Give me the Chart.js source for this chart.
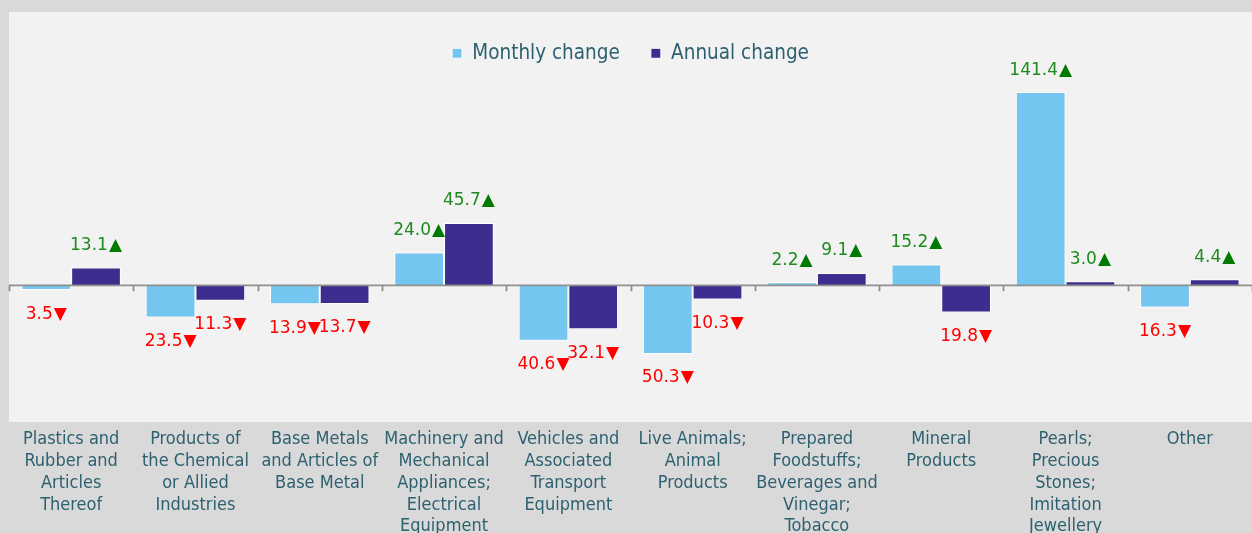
<!DOCTYPE html>
<html lang="en">
<head>
    <meta charset="UTF-8">
    <script src="https://cdn.jsdelivr.net/npm/chart.js"></script>
    <title>Monthly and annual change by product group</title>
    <style>
        body { margin: 0; background: #d9d9d9; overflow: hidden; }
        #chart { display: block; }
    </style>
</head>
<body>
    <canvas id="chart" width="1252" height="533"></canvas>
    <script>
        const categories = [
            ['Plastics and', 'Rubber and', 'Articles', 'Thereof'],
            ['Products of', 'the Chemical', 'or Allied', 'Industries'],
            ['Base Metals', 'and Articles of', 'Base Metal'],
            ['Machinery and', 'Mechanical', 'Appliances;', 'Electrical', 'Equipment'],
            ['Vehicles and', 'Associated', 'Transport', 'Equipment'],
            ['Live Animals;', 'Animal', 'Products'],
            ['Prepared', 'Foodstuffs;', 'Beverages and', 'Vinegar;', 'Tobacco'],
            ['Mineral', 'Products'],
            ['Pearls;', 'Precious', 'Stones;', 'Imitation', 'Jewellery'],
            ['Other']
        ];
        const monthlyChange = [-3.5, -23.5, -13.9, 24.0, -40.6, -50.3, 2.2, 15.2, 141.4, -16.3];
        const annualChange = [13.1, -11.3, -13.7, 45.7, -32.1, -10.3, 9.1, -19.8, 3.0, 4.4];

        const textColor = '#2d6070';
        const condensed = '"DejaVu Sans Condensed", "DejaVu Sans", sans-serif';

        // plot background, starting at the top of the legend
        const plotBackground = {
            id: 'plotBackground',
            beforeDraw(chart) {
                const { ctx, chartArea } = chart;
                const top = chart.legend ? chart.legend.top : chartArea.top;
                ctx.save();
                ctx.fillStyle = '#f2f2f2';
                ctx.fillRect(chartArea.left, top, chartArea.right - chartArea.left, chartArea.bottom - top);
                ctx.restore();
            }
        };

        // zero line with small ticks between categories
        const zeroAxis = {
            id: 'zeroAxis',
            afterDatasetsDraw(chart) {
                const { ctx, chartArea, scales } = chart;
                const y0 = scales.y.getPixelForValue(0);
                const step = (scales.x.right - scales.x.left) / categories.length;
                ctx.save();
                ctx.strokeStyle = '#8f8f8f';
                ctx.lineWidth = 1.8;
                ctx.beginPath();
                ctx.moveTo(chartArea.left, y0);
                ctx.lineTo(chartArea.right, y0);
                for (let i = 0; i <= categories.length; i++) {
                    const x = Math.round(scales.x.left + i * step) + 0.5;
                    ctx.moveTo(x, y0);
                    ctx.lineTo(x, y0 + 6);
                }
                ctx.stroke();
                ctx.restore();
            }
        };

        // value labels with up / down arrows
        const valueLabels = {
            id: 'valueLabels',
            afterDatasetsDraw(chart) {
                const ctx = chart.ctx;
                ctx.save();
                ctx.font = '17px "DejaVu Sans", sans-serif';
                ctx.textBaseline = 'middle';
                ctx.textAlign = 'left';
                chart.data.datasets.forEach((ds, di) => {
                    chart.getDatasetMeta(di).data.forEach((bar, i) => {
                        const v = ds.data[i];
                        const num = Math.abs(v).toFixed(1);
                        const arrow = v >= 0 ? '\u25B2' : '\u25BC';
                        const wNum = ctx.measureText(num).width;
                        const wArrow = ctx.measureText(arrow).width;
                        const gap = 1;
                        const total = wNum + gap + wArrow;
                        const x = bar.x - total / 2;
                        const y = v >= 0 ? bar.y - 22 : bar.y + 24;
                        ctx.fillStyle = v >= 0 ? '#1f8a1f' : '#ff0000';
                        ctx.fillText(num, x, y);
                        ctx.fillStyle = v >= 0 ? '#007a00' : '#ff0000';
                        ctx.fillText(arrow, x + wNum + gap, y);
                    });
                });
                ctx.restore();
            }
        };

        const ctx = document.getElementById('chart').getContext('2d');
        const chart = new Chart(ctx, {
            type: 'bar',
            data: {
                labels: categories,
                datasets: [{
                    label: 'Monthly change',
                    data: monthlyChange,
                    backgroundColor: '#74c6f0',
                    borderColor: '#ffffff',
                    borderWidth: 1
                }, {
                    label: 'Annual change',
                    data: annualChange,
                    backgroundColor: '#3b2e8e',
                    borderColor: '#ffffff',
                    borderWidth: 1
                }]
            },
            options: {
                responsive: false,
                animation: false,
                layout: { padding: { left: 9, top: 12, right: 0, bottom: 0 } },
                datasets: { bar: { categoryPercentage: 0.8, barPercentage: 1.0 } },
                plugins: {
                    tooltip: { enabled: false },
                    legend: {
                        position: 'top',
                        labels: {
                            color: textColor,
                            font: { family: condensed, size: 20.5 },
                            boxWidth: 10,
                            boxHeight: 10,
                            padding: 31
                        }
                    }
                },
                scales: {
                    x: {
                        grid: { display: false },
                        border: { display: false },
                        ticks: {
                            color: textColor,
                            font: { family: condensed, size: 18, lineHeight: 1.22 },
                            padding: -2,
                            maxRotation: 0,
                            autoSkip: false
                        },
                        afterFit(scale) { scale.height = 111; }
                    },
                    y: { display: false, min: -100, max: 155 }
                }
            },
            plugins: [plotBackground, zeroAxis, valueLabels]
        });
    </script>
</body>
</html>
